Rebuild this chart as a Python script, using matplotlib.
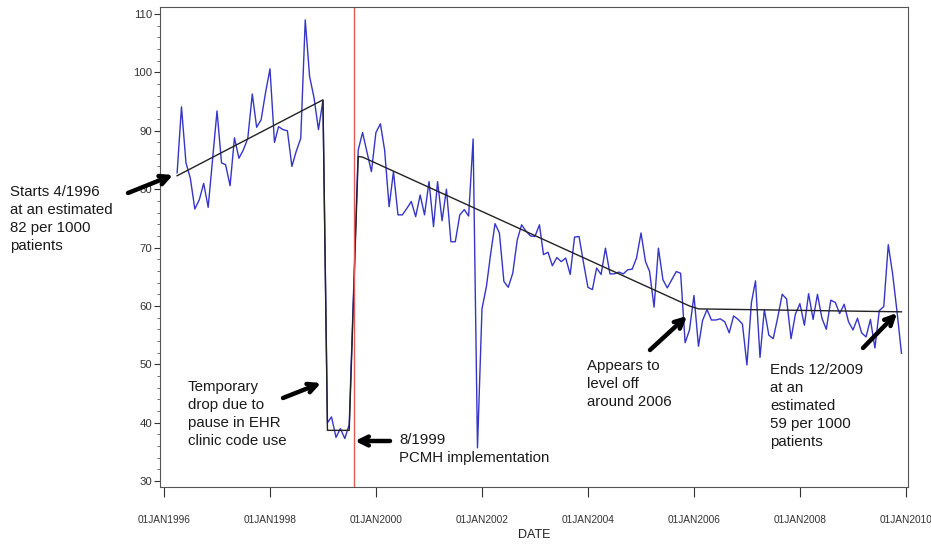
"""Monthly visit rate per 1000 patients, 1996-2009, with segmented fit and PCMH marker."""
import matplotlib
matplotlib.use("Agg")
import matplotlib.pyplot as plt
import matplotlib.dates as mdates
from matplotlib.ticker import MultipleLocator, FuncFormatter
import pandas as pd

plt.rcParams["font.family"] = ["Liberation Sans", "DejaVu Sans"]

# monthly series, Apr 1996 - Dec 2009 (Aug 1999 = implementation month, no point)
months = pd.date_range("1996-04-01", "2009-12-01", freq="MS")
months = months[months != pd.Timestamp("1999-08-01")]

pre_vals = [82.8, 94.1, 84.5, 81.9, 76.6, 78.2, 81.0, 76.9, 85.0, 93.4,
            84.5, 84.2, 80.6, 88.8, 85.3, 86.7, 88.7, 96.3, 90.6, 91.9,
            96.5, 100.6, 88.0, 90.7, 90.2, 90.0, 83.9, 86.5, 88.7, 109.0,
            99.3, 95.6, 90.2, 95.2]                       # Apr 1996 - Jan 1999
pause_vals = [40.0, 41.0, 37.5, 39.0, 37.3, 39.7]          # Feb 1999 - Jul 1999
post_vals_a = [86.7, 89.7, 86.3, 83.0, 89.7, 91.2, 86.7, 77.0, 83.0, 75.6,
               75.6, 76.7, 77.9, 75.3, 79.0, 75.6, 81.3, 73.6, 81.3, 74.6,
               80.0, 71.0, 71.0, 75.6, 76.5, 75.4, 88.6, 35.7, 59.5, 63.4,
               68.8, 74.1, 72.5, 64.2, 63.2, 65.6, 71.3, 73.9, 72.8, 72.0,
               71.9, 73.9, 68.8, 69.2, 66.9, 68.3, 67.6, 68.2, 65.4, 71.8,
               71.9, 67.5]                                  # Sep 1999 - Dec 2003
post_vals_b = [63.2, 62.8, 66.5, 65.4, 69.9, 65.5, 65.5, 65.8, 65.5, 66.2,
               66.3, 68.2, 72.5, 67.6, 65.9, 59.8, 69.9, 64.5, 63.1, 64.5,
               65.9, 65.6, 53.7, 55.9, 61.8, 53.1, 57.5]    # Jan 2004 - Mar 2006
post_vals_c = [59.4, 57.6, 57.6, 57.8, 57.3, 55.4, 58.3, 57.7, 56.9, 49.9,
               60.6, 64.3, 51.2, 59.4, 55.0, 54.4, 58.0, 62.0, 61.2, 54.4,
               58.6, 60.4, 56.7, 62.1, 57.7, 62.0, 57.9, 56.0, 61.0, 60.6,
               58.7, 60.3, 57.3, 55.9, 57.9, 55.4, 54.7, 57.7, 52.8, 59.2,
               59.9, 70.5, 65.5, 58.9, 51.9]                # Apr 2006 - Dec 2009
rate = pre_vals + pause_vals + post_vals_a + post_vals_b + post_vals_c

# segmented regression fit (knots)
fit_dates = pd.to_datetime(["1996-04-01", "1999-01-01", "1999-02-01", "1999-07-01",
                            "1999-09-01", "1999-10-01", "2005-12-01", "2006-02-01",
                            "2009-12-01"])
fit_vals = [82.3, 95.3, 38.7, 38.7, 85.6, 85.5, 60.0, 59.5, 59.0]

impl_date = pd.Timestamp("1999-08-01")
tick_dates = pd.to_datetime([f"{y}-01-01" for y in range(1996, 2011, 2)])

W, H = 931, 544
fig = plt.figure(figsize=(W / 100, H / 100), dpi=100)
ax = fig.add_axes([160 / W, 1 - 487 / H, 748 / W, 480 / H])

ax.plot(months, rate, color="#3535c8", lw=1.0)
ax.plot(fit_dates, fit_vals, color="#222222", lw=1.0)
ax.axvline(impl_date, color="#e05a5a", lw=1.0)

ax.set_xlim(pd.Timestamp("1995-12-05"), pd.Timestamp("2010-01-15"))
ax.set_ylim(29.0, 111.2)
ax.yaxis.set_major_locator(MultipleLocator(10))
ax.yaxis.set_minor_locator(MultipleLocator(2))
ax.set_xticks(tick_dates)
ax.xaxis.set_major_formatter(
    FuncFormatter(lambda v, p: mdates.num2date(v).strftime("%d%b%Y").upper()))
ax.tick_params(axis="x", length=7, width=0.8, labelsize=7.3, pad=13, colors="#333333")
ax.tick_params(axis="y", which="major", length=4, width=0.8, labelsize=8.2, pad=1.5,
               colors="#333333")
ax.tick_params(axis="y", which="minor", length=2, width=0.6, colors="#555555")
for s in ax.spines.values():
    s.set_color("#555555")
    s.set_linewidth(0.8)
ax.set_xlabel("DATE", fontsize=9, labelpad=3, color="#222222")


def px(x, y):
    return (x, H - y)


notes = [
    ("Starts 4/1996\nat an estimated\n82 per 1000\npatients", (10, 219), (128, 193), (173, 175)),
    ("Temporary\ndrop due to\npause in EHR\nclinic code use", (188, 414), (283, 398), (321, 383)),
    ("8/1999\nPCMH implementation", (399, 449), (390, 441), (355, 441)),
    ("Appears to\nlevel off\naround 2006", (587, 384), (650, 350), (687, 316)),
    ("Ends 12/2009\nat an\nestimated\n59 per 1000\npatients", (770, 406), (863, 348), (897, 313)),
]
for text, tpos, tail, head in notes:
    fig.text(tpos[0] / W, 1 - tpos[1] / H, text, fontsize=10.8, va="center", ha="left",
             color="#1a1a1a", linespacing=1.36)
    ax.annotate("", xy=px(*head), xycoords="figure pixels",
                xytext=px(*tail), textcoords="figure pixels",
                arrowprops=dict(arrowstyle="->", lw=3.2, color="black",
                                mutation_scale=16, shrinkA=0, shrinkB=0),
                annotation_clip=False)

fig.savefig("out.png", dpi=100)
